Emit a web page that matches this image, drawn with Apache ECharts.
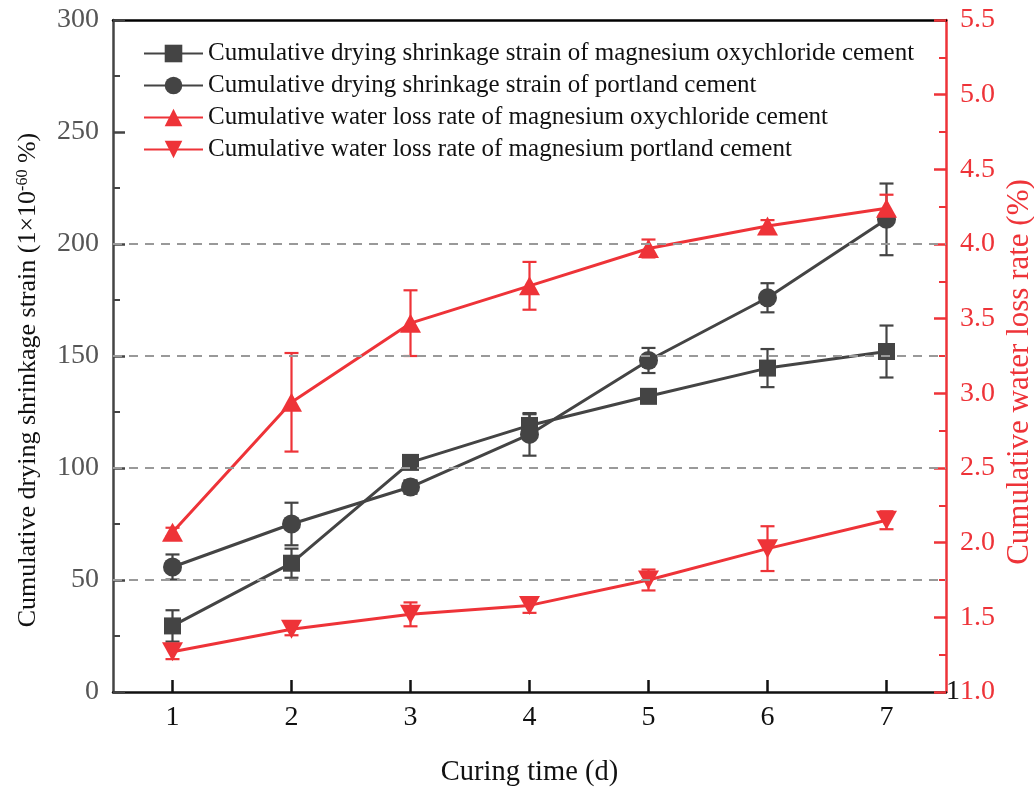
<!DOCTYPE html>
<html>
<head>
<meta charset="utf-8">
<script src="https://cdn.jsdelivr.net/npm/echarts@6/dist/echarts.min.js"></script>
<style>
html,body{margin:0;padding:0;background:#fff;}
#chart{width:1034px;height:787px;}
</style>
</head>
<body>
<div id="chart"></div>
<script>
// ---- data ----
const categories = ['1', '2', '3', '4', '5', '6', '7'];
const seriesNames = [
  'Cumulative drying shrinkage strain of magnesium oxychloride cement',
  'Cumulative drying shrinkage strain of portland cement',
  'Cumulative water loss rate of magnesium oxychloride cement',
  'Cumulative water loss rate of magnesium portland cement'
];
const mocShrink    = [29.5, 57.5, 102.5, 119, 132, 144.6, 152];
const mocShrinkErr = [7, 6.5, 2.5, 5, 3, 8.5, 11.6];
const pcShrink     = [55.8, 75, 91.5, 115, 148, 176, 211];
const pcShrinkErr  = [5.6, 9.5, 3, 9.5, 5.6, 6.5, 16];
const mocWater     = [2.07, 2.94, 3.47, 3.72, 3.97, 4.12, 4.24];
const mocWaterErr  = [0.03, 0.33, 0.22, 0.16, 0.06, 0.04, 0.09];
const pcWater      = [1.27, 1.42, 1.52, 1.58, 1.75, 1.96, 2.15];
const pcWaterErr   = [0.05, 0.04, 0.08, 0.05, 0.07, 0.15, 0.06];
const gridLineValues = [50, 100, 150, 200];
const leftAxisName = 'Cumulative drying shrinkage strain (1×10{sup|-60} %)';
const rightAxisName = 'Cumulative water loss rate (%)';
const xAxisName = 'Curing time (d)';

const GRAY = '#444444';
const RED = '#EE3338';
const FONT = '"Liberation Serif", "Times New Roman", serif';

function errData(vals, errs) {
  return vals.map((v, i) => [i, v - errs[i], v + errs[i]]);
}
function errSeries(vals, errs, color, yIdx) {
  return {
    type: 'custom',
    yAxisIndex: yIdx,
    data: errData(vals, errs),
    encode: { x: 0, y: [1, 2] },
    silent: true,
    renderItem: function (params, api) {
      const x = api.value(0), lo = api.value(1), hi = api.value(2);
      const a = api.coord([x, lo]), b = api.coord([x, hi]);
      const hw = 7;
      const st = { stroke: color, lineWidth: 2.2, fill: null };
      return {
        type: 'group',
        children: [
          { type: 'line', shape: { x1: a[0], y1: a[1], x2: b[0], y2: b[1] }, style: st },
          { type: 'line', shape: { x1: a[0] - hw, y1: a[1], x2: a[0] + hw, y2: a[1] }, style: st },
          { type: 'line', shape: { x1: b[0] - hw, y1: b[1], x2: b[0] + hw, y2: b[1] }, style: st }
        ]
      };
    }
  };
}
function lineSeries(name, vals, color, yIdx, symbol, size, rotate) {
  return {
    name: name,
    type: 'line',
    yAxisIndex: yIdx,
    data: vals,
    symbol: symbol,
    symbolSize: size,
    symbolRotate: rotate || 0,
    showAllSymbol: true,
    lineStyle: { color: color, width: 3 },
    itemStyle: { color: color },
    emphasis: { disabled: true }
  };
}

const chart = echarts.init(document.getElementById('chart'), null, { renderer: 'canvas' });
const option = {
  animation: false,
  backgroundColor: '#fff',
  textStyle: { fontFamily: FONT },
  grid: { left: 113, right: 88, top: 20, bottom: 95, outerBoundsMode: 'none', containLabel: false },
  legend: {
    data: seriesNames,
    orient: 'vertical',
    left: 138,
    top: 36,
    itemWidth: 59,
    itemHeight: 22,
    itemGap: 7,
    textStyle: { fontFamily: FONT, fontSize: 25, color: '#111' }
  },
  xAxis: [{
    type: 'category',
    data: categories,
    boundaryGap: true,
    name: xAxisName,
    nameLocation: 'middle',
    nameGap: 66,
    nameTextStyle: { fontFamily: FONT, fontSize: 28.5, color: '#111' },
    axisLine: { show: true, lineStyle: { color: '#111', width: 2.5 } },
    axisTick: { show: true, inside: true, alignWithLabel: true, length: 12, lineStyle: { color: '#111', width: 2.5 } },
    axisLabel: { fontFamily: FONT, fontSize: 28, color: '#111', margin: 12 },
    splitLine: { show: false }
  }, {
    type: 'category',
    data: categories,
    position: 'top',
    axisLine: { show: true, lineStyle: { color: '#000', width: 2.5 } },
    axisTick: { show: false },
    axisLabel: { show: false },
    splitLine: { show: false }
  }],
  yAxis: [{
    type: 'value',
    min: 0, max: 300, interval: 50,
    position: 'left',
    axisLine: { show: true, lineStyle: { color: GRAY, width: 2.5 } },
    axisTick: { show: true, inside: true, length: 12, lineStyle: { color: GRAY, width: 2.5 } },
    minorTick: { show: true, splitNumber: 2, length: 7, lineStyle: { color: GRAY, width: 2 } },
    axisLabel: { fontFamily: FONT, fontSize: 28, color: '#555', margin: 14 },
    splitLine: { show: false }
  }, {
    type: 'value',
    min: 1, max: 5.5, interval: 0.5,
    position: 'right',
    axisLine: { show: true, lineStyle: { color: RED, width: 2.5 } },
    axisTick: { show: true, inside: true, length: 12, lineStyle: { color: RED, width: 2.5 } },
    minorTick: { show: true, splitNumber: 2, length: 7, lineStyle: { color: RED, width: 2 } },
    axisLabel: { fontFamily: FONT, fontSize: 28, color: RED, margin: 14, formatter: v => v.toFixed(1) },
    splitLine: { show: false }
  }],
  graphic: [{
    type: 'text',
    x: 28, y: 380,
    rotation: Math.PI / 2,
    style: {
      text: leftAxisName,
      font: '26px ' + FONT,
      fill: '#111',
      align: 'center',
      verticalAlign: 'middle',
      rich: { sup: { fontFamily: FONT, fontSize: 16, fill: '#111', verticalAlign: 'top', padding: [0, 0, 10, 0] } }
    }
  }, {
    type: 'text',
    x: 1020, y: 372,
    rotation: Math.PI / 2,
    style: { text: rightAxisName, font: '31px ' + FONT, fill: RED, align: 'center', verticalAlign: 'middle' }
  }, {
    type: 'text',
    x: 946, y: 692,
    z: 100,
    style: { text: '1', font: '28px ' + FONT, fill: '#111', align: 'left', verticalAlign: 'middle' }
  }],
  series: [
    Object.assign(lineSeries('_grid', [], GRAY, 0, 'none', 0), {
      markLine: {
        silent: true,
        symbol: ['none', 'none'],
        label: { show: false },
        lineStyle: { color: '#999', type: [9, 7], width: 1.8 },
        data: gridLineValues.map(v => ({ yAxis: v }))
      }
    }),
    errSeries(mocShrink, mocShrinkErr, GRAY, 0),
    errSeries(pcShrink, pcShrinkErr, GRAY, 0),
    lineSeries(seriesNames[0], mocShrink, GRAY, 0, 'rect', 17),
    lineSeries(seriesNames[1], pcShrink, GRAY, 0, 'circle', 19),
    errSeries(mocWater, mocWaterErr, RED, 1),
    errSeries(pcWater, pcWaterErr, RED, 1),
    lineSeries(seriesNames[2], mocWater, RED, 1, 'triangle', [21, 19]),
    lineSeries(seriesNames[3], pcWater, RED, 1, 'triangle', [21, 19], 180)
  ]
};
chart.setOption(option);
</script>
</body>
</html>
